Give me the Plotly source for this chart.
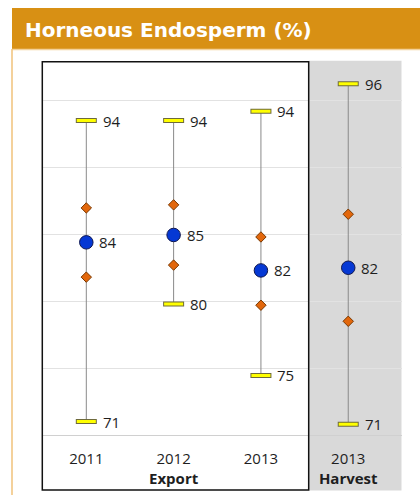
import plotly.graph_objects as go

# ---- data ----
years = ["2011", "2012", "2013", "2013"]
groups = ["", "Export", "", "Harvest"]
max_vals = [93.5, 93.5, 94.2, 96.25]
min_vals = [71.0, 79.8, 74.45, 70.8]
mid_vals = [84.4, 84.95, 82.3, 82.5]
upper_vals = [86.97, 87.2, 84.8, 86.5]
lower_vals = [81.8, 82.7, 79.7, 78.5]
max_labels = ["94", "94", "94", "96"]
min_labels = ["71", "80", "75", "71"]
mid_labels = ["84", "85", "82", "82"]

W, H = 420, 495
xs = list(range(len(years)))
ticktext = [y if not g else f"{y}<br><b>{g}</b>" for y, g in zip(years, groups)]

def px(x):
    return x / W

def py(y):
    return 1 - y / H

fig = go.Figure()

# vertical range lines
lx, ly = [], []
for x, lo, hi in zip(xs, min_vals, max_vals):
    lx += [x, x, None]
    ly += [lo, hi, None]
fig.add_trace(go.Scatter(x=lx, y=ly, mode="lines",
                         line=dict(color="#8a8a8a", width=1),
                         hoverinfo="skip", showlegend=False))

# yellow min / max bars (outline + fill)
ext_x = xs + xs
ext_y = max_vals + min_vals
fig.add_trace(go.Scatter(x=ext_x, y=ext_y, mode="markers",
                         marker=dict(symbol="line-ew", size=15,
                                     line=dict(color="#6e6a3c", width=5)),
                         showlegend=False))
fig.add_trace(go.Scatter(x=ext_x, y=ext_y, mode="markers",
                         marker=dict(symbol="line-ew", size=13.6,
                                     line=dict(color="#ffff00", width=3)),
                         showlegend=False))

# orange diamonds
fig.add_trace(go.Scatter(x=xs + xs, y=upper_vals + lower_vals, mode="markers",
                         marker=dict(symbol="diamond", size=8, color="#e2670c",
                                     line=dict(color="#7a3800", width=1)),
                         showlegend=False))

# blue circles
fig.add_trace(go.Scatter(x=xs, y=mid_vals, mode="markers",
                         marker=dict(symbol="circle", size=13.5, color="#0538d4",
                                     line=dict(color="#101850", width=1)),
                         showlegend=False))

lab_font = dict(family="Open Sans", size=15, color="#1e1e1e")
for x, v, t in zip(xs, max_vals, max_labels):
    fig.add_annotation(x=x, y=v, text=t, showarrow=False, xanchor="left",
                       yanchor="middle", xshift=14.5, font=lab_font)
for x, v, t in zip(xs, min_vals, min_labels):
    fig.add_annotation(x=x, y=v, text=t, showarrow=False, xanchor="left",
                       yanchor="middle", xshift=14.5, font=lab_font)
for x, v, t in zip(xs, mid_vals, mid_labels):
    fig.add_annotation(x=x, y=v, text=t, showarrow=False, xanchor="left",
                       yanchor="middle", xshift=11, font=lab_font)

# title bar
fig.add_shape(type="rect", xref="paper", yref="paper",
              x0=px(12), x1=1, y0=py(49), y1=py(8),
              fillcolor="#d89014", line=dict(width=0), layer="below")
fig.add_shape(type="line", xref="paper", yref="paper",
              x0=px(12), x1=1, y0=py(49.5), y1=py(49.5),
              line=dict(color="#f3d29c", width=1.5), layer="below")
fig.add_shape(type="line", xref="paper", yref="paper",
              x0=px(12), x1=px(12), y0=0, y1=py(49),
              line=dict(color="#f0c27a", width=1.5), layer="below")
fig.add_annotation(xref="paper", yref="paper", x=px(23), y=py(30),
                   xanchor="left", yanchor="middle", showarrow=False,
                   text="<b>Horneous Endosperm (%)</b>",
                   font=dict(family="DejaVu Sans", size=20, color="white"))

# grey harvest panel and black export box
fig.add_shape(type="rect", xref="paper", yref="paper",
              x0=px(308.7), x1=px(401.5), y0=py(490.5), y1=py(60.7),
              fillcolor="#d9d9d9", line=dict(width=0), layer="below")
fig.add_shape(type="rect", xref="paper", yref="paper",
              x0=px(42.3), x1=px(308.7), y0=py(490), y1=py(61.7),
              fillcolor="rgba(0,0,0,0)", line=dict(color="#111111", width=1.5),
              layer="above")

fig.update_layout(
    width=W, height=H,
    margin=dict(l=0, r=0, t=0, b=0),
    paper_bgcolor="white",
    plot_bgcolor="rgba(0,0,0,0)",
    showlegend=False,
    xaxis=dict(domain=[px(42.3), px(401.5)], range=[-0.504, 3.61],
               tickvals=xs, ticktext=ticktext, showgrid=False, zeroline=False,
               showline=True, linecolor="#d0d0d0", linewidth=1,
               ticks="", ticklabelstandoff=10,
               tickfont=dict(family="Open Sans", size=15, color="#1e1e1e"),
               fixedrange=True),
    yaxis=dict(domain=[py(435), py(61.7)], range=[70, 97.9],
               dtick=5, tick0=70, showgrid=True, gridcolor="#e2e2e2",
               gridwidth=1, zeroline=False, showticklabels=False,
               showline=False, fixedrange=True),
)

fig.write_html("out.html")
